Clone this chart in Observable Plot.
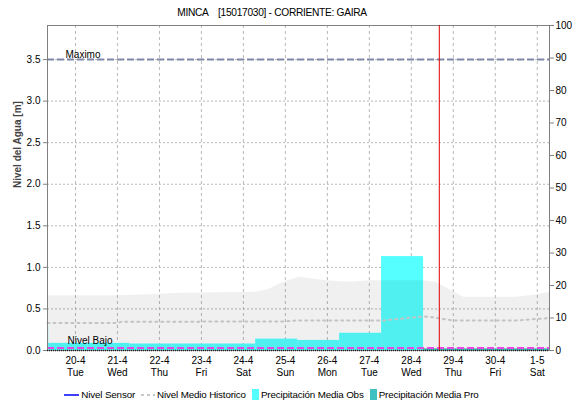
<!DOCTYPE html>
<html>
<head>
<meta charset="utf-8">
<script src="https://cdn.jsdelivr.net/npm/d3@7"></script>
<script src="https://cdn.jsdelivr.net/npm/@observablehq/plot@0.6"></script>
<style>
  body { margin: 0; background: #fff; font-family: "Liberation Sans", Arial, sans-serif; }
  #wrap { position: relative; width: 574px; height: 405px; overflow: hidden; }
  #title { position: absolute; top: 7px; left: 0; width: 544px; text-align: center; font-size: 10.2px; letter-spacing: -0.3px; white-space: pre; color: #000; }
  #legend { position: absolute; top: 389px; left: 0; width: 543px; display: flex; justify-content: center; align-items: center; font-size: 9.8px; letter-spacing: -0.15px; color: #000; white-space: nowrap; }
  #legend .item { display: flex; align-items: center; margin-right: 6px; }
  #legend .item:last-child { margin-right: 0; }
  #legend svg { margin-right: 2px; }
  #chart { position: absolute; top: 0; left: 0; }
</style>
</head>
<body>
<div id="wrap">
  <div id="chart"></div>
  <div id="title"></div>
  <div id="legend"></div>
</div>
<script>
// ---------- data ----------
const titleText = "MINCA    [15017030] - CORRIENTE: GAIRA";
const yLabel = "Nivel del Agua [m]";
const xStart = "2021-04-19T08:00";
const xEnd = "2021-05-01T07:00";
const levelMax = 3.91;          // left axis top (m)
const precipMax = 100;          // right axis top (mm)
const levelTicks = [0, 0.5, 1.0, 1.5, 2.0, 2.5, 3.0, 3.5];
const precipTicks = [0, 10, 20, 30, 40, 50, 60, 70, 80, 90, 100];
const dayTicks = ["2021-04-20","2021-04-21","2021-04-22","2021-04-23","2021-04-24","2021-04-25","2021-04-26","2021-04-27","2021-04-28","2021-04-29","2021-04-30","2021-05-01"];

const maximoValue = 3.5;
const nivelBajoValue = 0.03;
const nowTime = "2021-04-28T16:00";

// Precipitación Media Obs (daily 07:00 to 07:00)
const obsStart = ["2021-04-19T07:00","2021-04-19T08:40","2021-04-20T07:00","2021-04-21T07:00","2021-04-22T07:00","2021-04-23T07:00","2021-04-24T07:00","2021-04-25T07:00","2021-04-26T07:00","2021-04-27T07:00"];
const obsEnd   = ["2021-04-19T08:40","2021-04-20T07:00","2021-04-21T07:00","2021-04-22T07:00","2021-04-23T07:00","2021-04-24T07:00","2021-04-25T07:00","2021-04-26T07:00","2021-04-27T07:00","2021-04-28T07:00"];
const obsValue = [7.4, 2.2, 2.2, 2.0, 2.0, 2.0, 3.5, 3.1, 5.3, 28.9];

// Precipitación Media Pro
const proStart = ["2021-04-28T07:00","2021-04-29T07:00","2021-04-30T07:00"];
const proEnd   = ["2021-04-29T07:00","2021-04-30T07:00","2021-05-01T07:00"];
const proValue = [0.5, 0.5, 0.5];

// historical range (upper envelope) in m
const bandTime = ["2021-04-19T08:00","2021-04-21T00:00","2021-04-21T18:00","2021-04-22T12:00","2021-04-24T07:00","2021-04-24T14:00","2021-04-25T00:00","2021-04-25T08:00","2021-04-25T16:00","2021-04-26T00:00","2021-04-26T12:00","2021-04-27T00:00","2021-04-28T07:00","2021-04-28T14:00","2021-04-29T00:00","2021-04-29T06:00","2021-04-30T12:00","2021-05-01T00:00","2021-05-01T07:00"];
const bandMax  = [0.66, 0.66, 0.67, 0.69, 0.70, 0.73, 0.83, 0.88, 0.86, 0.84, 0.82, 0.84, 0.84, 0.82, 0.71, 0.64, 0.64, 0.67, 0.70];

// Nivel Medio Historico (m)
const medioTime  = ["2021-04-19T08:00","2021-04-21T00:00","2021-04-21T02:00","2021-04-25T00:00","2021-04-25T06:00","2021-04-27T07:00","2021-04-28T07:00","2021-04-28T12:00","2021-04-29T00:00","2021-04-30T12:00","2021-05-01T00:00","2021-05-01T07:00"];
const medioValue = [0.33, 0.33, 0.345, 0.35, 0.36, 0.36, 0.41, 0.40, 0.36, 0.36, 0.38, 0.39];

const legendLabels = ["Nivel Sensor", "Nivel Medio Historico", "Precipitación Media Obs", "Precipitación Media Pro"];

// ---------- chart ----------
const P = s => new Date(s);
const K = levelMax / precipMax;
const idx = a => a.map((_, i) => i);
const fmtDay = d3.timeFormat("%-d-%-m");
const fmtWd = d3.timeFormat("%a");

const chart = Plot.plot({
  width: 574,
  height: 405,
  marginTop: 25,
  marginBottom: 55,
  marginLeft: 47,
  marginRight: 25,
  style: { fontFamily: "'Liberation Sans', Arial, sans-serif", fontSize: "10px", background: "white", color: "#000" },
  x: { type: "time", domain: [P(xStart), P(xEnd)] },
  y: { domain: [0, levelMax] },
  marks: [
    Plot.gridY(levelTicks.filter(v => v > 0), { stroke: "#b8b8b8", strokeOpacity: 1, strokeDasharray: "2,2" }),
    Plot.gridX(dayTicks.map(P), { stroke: "#b8b8b8", strokeOpacity: 1, strokeDasharray: "3,3" }),
    Plot.rect(idx(obsValue), { x1: i => P(obsStart[i]), x2: i => P(obsEnd[i]), y1: 0, y2: i => obsValue[i] * K, fill: "#55ffff", clip: true }),
    Plot.rect(idx(proValue), { x1: i => P(proStart[i]), x2: i => P(proEnd[i]), y1: 0, y2: i => proValue[i] * K, fill: "#40c0c0", clip: true }),
    Plot.areaY(idx(bandMax), { x: i => P(bandTime[i]), y1: 0, y2: i => bandMax[i], fill: "#000", fillOpacity: 0.06 }),
    Plot.line(idx(medioValue), { x: i => P(medioTime[i]), y: i => medioValue[i], stroke: "#c4c4c4", strokeWidth: 2, strokeDasharray: "2,4" }),
    Plot.ruleY([maximoValue], { stroke: "#7f87aa", strokeWidth: 2, strokeDasharray: "7,3" }),
    Plot.ruleY([nivelBajoValue], { stroke: "#e648e6", strokeWidth: 2, strokeDasharray: "7,3" }),
    Plot.text(["Maximo"], { frameAnchor: "left", y: () => maximoValue, text: d => d, textAnchor: "start", dx: 18, dy: -5, fontSize: 10 }),
    Plot.text(["Nivel Bajo"], { frameAnchor: "left", y: () => nivelBajoValue, text: d => d, textAnchor: "start", dx: 20, dy: -7, fontSize: 10 }),
    Plot.frame({ stroke: "#808080" }),
    Plot.ruleY([0], { stroke: "#202020", strokeDasharray: "1,1", strokeWidth: 1.5 }),
    Plot.ruleX([P(nowTime)], { stroke: "#e00000", strokeWidth: 1 }),
    Plot.axisY(levelTicks, { anchor: "left", tickFormat: d3.format(".1f"), tickSize: 4, tickPadding: 3, label: null, stroke: "#808080" }),
    Plot.axisY(precipTicks.map(v => v * K), { anchor: "right", tickFormat: d => String(Math.round(d / K)), tickSize: 4, tickPadding: 2, label: null, stroke: "#808080" }),
    Plot.axisX(dayTicks.map(P), { anchor: "bottom", tickFormat: d => fmtDay(d) + "\n" + fmtWd(d), tickSize: 0, tickPadding: 5, label: null, lineHeight: 1.2 }),
    Plot.text([yLabel], { frameAnchor: "left", text: d => d, rotate: -90, dx: -30, fontWeight: "bold", fontSize: 10, fill: "#444" })
  ]
});
document.getElementById("chart").appendChild(chart);
document.getElementById("title").textContent = titleText;

// legend
const swatches = [
  '<svg width="15" height="10"><line x1="0" x2="15" y1="5" y2="5" stroke="#0000ff" stroke-width="1.5"/></svg>',
  '<svg width="14" height="10"><line x1="0" x2="14" y1="5" y2="5" stroke="#c8c8c8" stroke-width="2" stroke-dasharray="3,3"/></svg>',
  '<svg width="7" height="11"><rect x="0" y="0" width="7" height="11" fill="#55ffff"/></svg>',
  '<svg width="7" height="11"><rect x="0" y="0" width="7" height="11" fill="#40c0c0"/></svg>'
];
document.getElementById("legend").innerHTML = legendLabels.map((l, i) => `<span class="item">${swatches[i]}<span>${l}</span></span>`).join("");
</script>
</body>
</html>
